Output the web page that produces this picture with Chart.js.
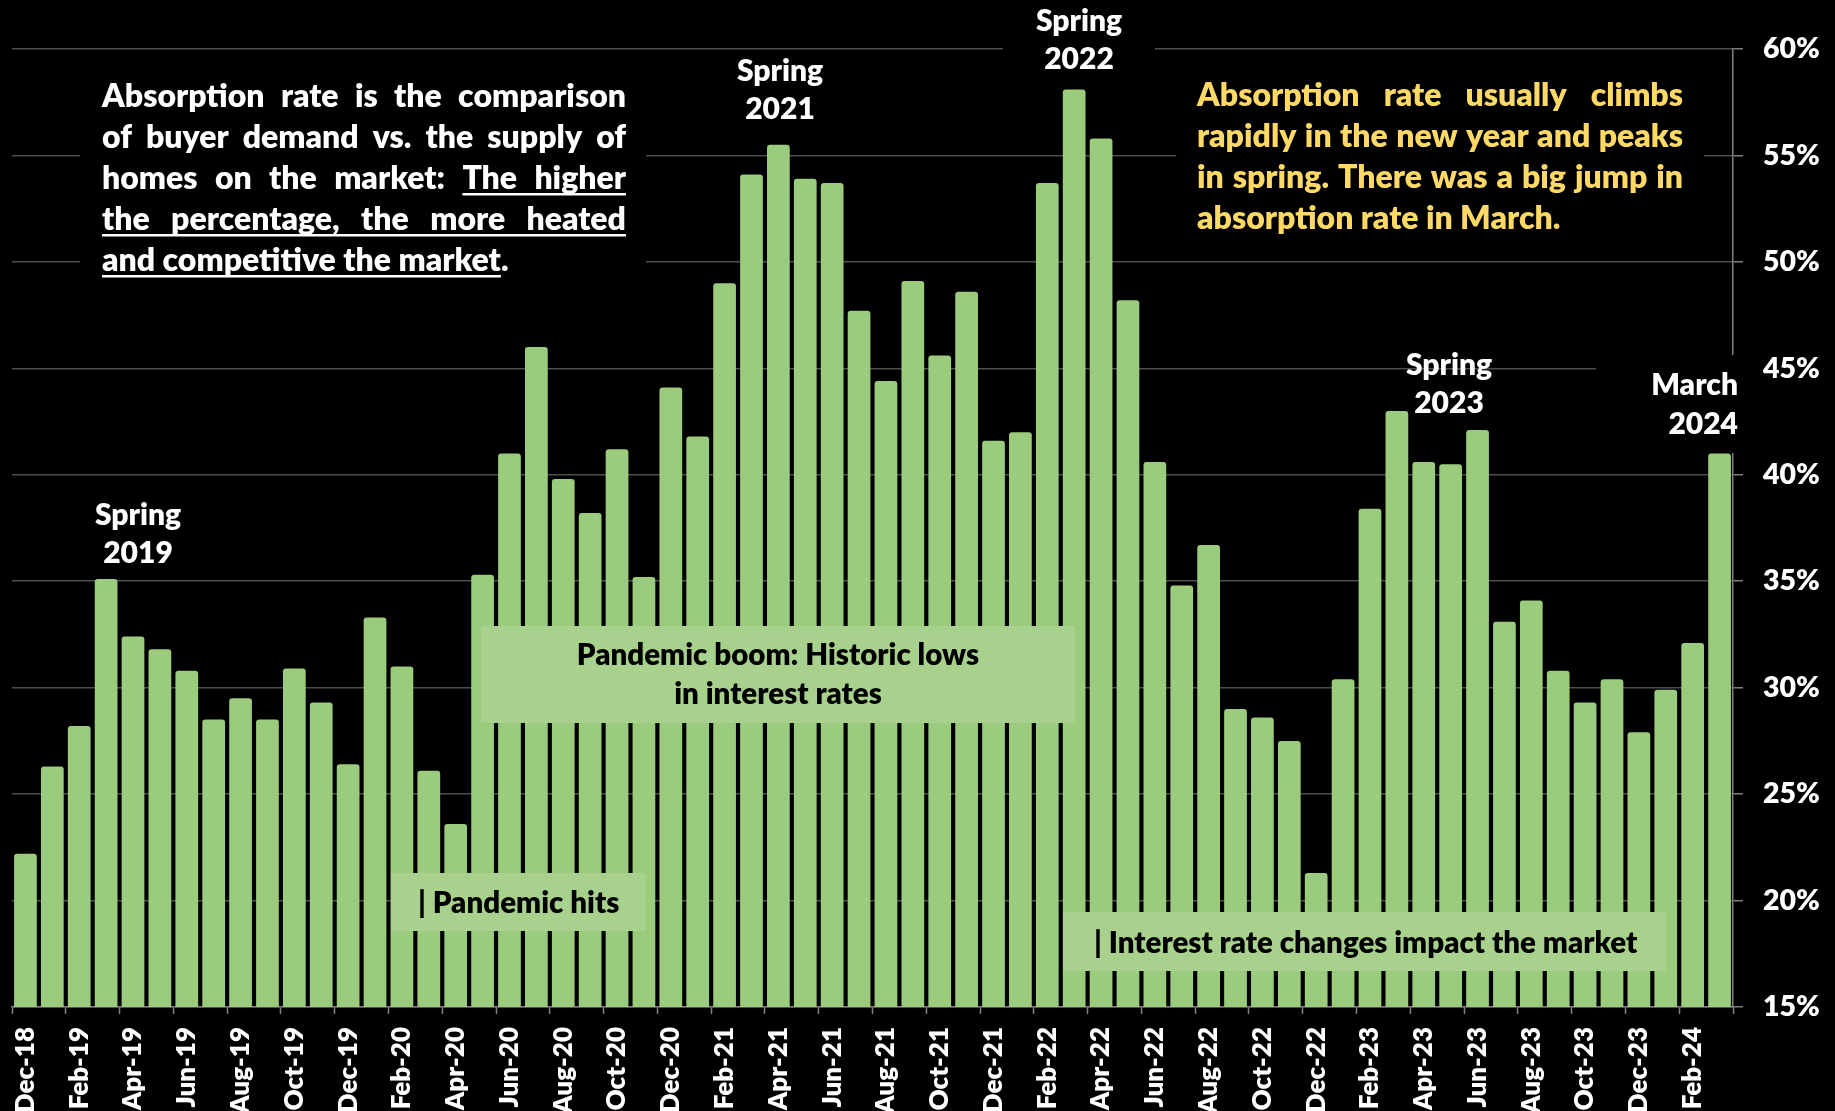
<!DOCTYPE html>
<html>
<head>
<meta charset="utf-8">
<title>Absorption rate</title>
<script src="https://cdn.jsdelivr.net/npm/chart.js@4"></script>
<style>
    html, body { margin: 0; padding: 0; background: #000; overflow: hidden; }
    #chartBox { width: 1835px; height: 1111px; position: relative; }
</style>
</head>
<body>
<div id="chartBox"><canvas id="absorptionChart"></canvas></div>
<script>
// Monthly absorption rate, Dec 2018 - Mar 2024
const months = [
    'Dec-18',
    'Jan-19', 'Feb-19', 'Mar-19', 'Apr-19', 'May-19', 'Jun-19', 'Jul-19', 'Aug-19', 'Sep-19', 'Oct-19', 'Nov-19', 'Dec-19',
    'Jan-20', 'Feb-20', 'Mar-20', 'Apr-20', 'May-20', 'Jun-20', 'Jul-20', 'Aug-20', 'Sep-20', 'Oct-20', 'Nov-20', 'Dec-20',
    'Jan-21', 'Feb-21', 'Mar-21', 'Apr-21', 'May-21', 'Jun-21', 'Jul-21', 'Aug-21', 'Sep-21', 'Oct-21', 'Nov-21', 'Dec-21',
    'Jan-22', 'Feb-22', 'Mar-22', 'Apr-22', 'May-22', 'Jun-22', 'Jul-22', 'Aug-22', 'Sep-22', 'Oct-22', 'Nov-22', 'Dec-22',
    'Jan-23', 'Feb-23', 'Mar-23', 'Apr-23', 'May-23', 'Jun-23', 'Jul-23', 'Aug-23', 'Sep-23', 'Oct-23', 'Nov-23', 'Dec-23',
    'Jan-24', 'Feb-24', 'Mar-24'
];

const absorptionRate = [
    22.2,
    26.3, 28.2, 35.1, 32.4, 31.8, 30.8, 28.5, 29.5, 28.5, 30.9, 29.3, 26.4,
    33.3, 31.0, 26.1, 23.6, 35.3, 41.0, 46.0, 39.8, 38.2, 41.2, 35.2, 44.1,
    41.8, 49.0, 54.1, 55.5, 53.9, 53.7, 47.7, 44.4, 49.1, 45.6, 48.6, 41.6,
    42.0, 53.7, 58.1, 55.8, 48.2, 40.6, 34.8, 36.7, 29.0, 28.6, 27.5, 21.3,
    30.4, 38.4, 43.0, 40.6, 40.5, 42.1, 33.1, 34.1, 30.8, 29.3, 30.4, 27.9,
    29.9, 32.1, 41.0
];

// y axis range (percent)
const axisMin = 15;
const axisMax = 60;
const axisStep = 5;

// Notes
const definitionLines = [
    'Absorption rate is the comparison',
    'of buyer demand vs. the supply of',
    'homes on the market: The higher',
    'the percentage, the more heated',
    'and competitive the market.'
];
const trendLines = [
    'Absorption rate usually climbs',
    'rapidly in the new year and peaks',
    'in spring. There was a big jump in',
    'absorption rate in March.'
];
const boomNote = ['Pandemic boom: Historic lows', 'in interest rates'];
const pandemicNote = '| Pandemic hits';
const ratesNote = '| Interest rate changes impact the market';
const peakLabels = [
    ['Spring', '2019'],
    ['Spring', '2021'],
    ['Spring', '2022'],
    ['Spring', '2023'],
    ['March', '2024']
];

const FONT = 'Lato';
const WEIGHT = 800;
const BAR_GREEN = '#9bcb7c';
const BOX_GREEN = '#a9d18e';
const AXIS_GRAY = '#808080';

// Draws a justified paragraph; the last line keeps normal spacing.
// ulFrom maps line index -> first underlined word.
function drawParagraph(ctx, lines, left, width, firstBaseline, step, ulFrom) {
    lines.forEach((line, i) => {
        const words = line.split(' ');
        const y = firstBaseline + i * step;
        const isLast = i === lines.length - 1;
        const widths = words.map(w => ctx.measureText(w).width);
        const total = widths.reduce((a, b) => a + b, 0);
        const gap = isLast ? ctx.measureText(' ').width : (width - total) / (words.length - 1);

        let x = left;
        let ulStart = null;
        let ulEnd = null;
        words.forEach((w, j) => {
            ctx.fillText(w, x, y);
            if (ulFrom && ulFrom[i] !== undefined && j >= ulFrom[i]) {
                if (ulStart === null) ulStart = x;
                // the closing period is not underlined
                ulEnd = x + (w.endsWith('.') ? ctx.measureText(w.slice(0, -1)).width : widths[j]);
            }
            x += widths[j] + gap;
        });
        if (ulStart !== null) {
            ctx.fillRect(ulStart, y + 4, ulEnd - ulStart, 2.5);
        }
    });
}

function drawLines(ctx, lines, x, firstBaseline, step) {
    lines.forEach((line, i) => ctx.fillText(line, x, firstBaseline + i * step));
}

const notesPlugin = {
    id: 'notes',
    // black panels behind the text hide the grid lines
    beforeDatasetsDraw(chart) {
        const ctx = chart.ctx;
        ctx.save();
        ctx.fillStyle = '#000';
        ctx.fillRect(80, 65, 566, 225);
        ctx.fillRect(1176, 70, 528, 175);
        ctx.fillRect(1003, 0, 152, 80);
        ctx.fillRect(1596, 355, 149, 98);
        ctx.restore();
    },
    afterDatasetsDraw(chart) {
        const ctx = chart.ctx;
        ctx.save();
        ctx.textBaseline = 'alphabetic';

        // green callout boxes
        ctx.fillStyle = BOX_GREEN;
        ctx.fillRect(481, 626, 594, 97);
        ctx.fillRect(391, 873, 255, 58);
        ctx.fillRect(1063, 912, 603, 59);

        ctx.fillStyle = '#000';
        ctx.font = `${WEIGHT} 29.5px ${FONT}`;
        ctx.textAlign = 'center';
        drawLines(ctx, boomNote, 778, 665, 39);
        ctx.textAlign = 'left';
        ctx.fillText(pandemicNote, 418, 913);
        ctx.fillText(ratesNote, 1094, 953);

        // paragraphs
        ctx.font = `${WEIGHT} 32px ${FONT}`;
        ctx.fillStyle = '#fff';
        drawParagraph(ctx, definitionLines, 102, 524, 107, 41, { 2: 4, 3: 0, 4: 0 });
        ctx.fillStyle = '#ffd966';
        drawParagraph(ctx, trendLines, 1197, 486, 106, 41);

        // peak labels
        ctx.fillStyle = '#fff';
        ctx.font = `${WEIGHT} 30px ${FONT}`;
        ctx.textAlign = 'center';
        drawLines(ctx, peakLabels[0], 138, 525, 37.5);
        drawLines(ctx, peakLabels[1], 780, 81, 37.5);
        drawLines(ctx, peakLabels[2], 1079, 31, 37.5);
        drawLines(ctx, peakLabels[3], 1449, 375, 38);
        ctx.textAlign = 'right';
        drawLines(ctx, peakLabels[4], 1738, 395, 39);

        ctx.restore();
    }
};

function createChart() {
    const ctx = document.getElementById('absorptionChart').getContext('2d');

    return new Chart(ctx, {
        type: 'bar',
        data: {
            labels: months,
            datasets: [{
                data: absorptionRate,
                backgroundColor: BAR_GREEN,
                borderRadius: 3,
                barPercentage: 0.845,
                categoryPercentage: 1
            }]
        },
        options: {
            responsive: true,
            maintainAspectRatio: false,
            animation: false,
            layout: { padding: { left: 12, top: 49, right: 0, bottom: 0 } },
            plugins: {
                legend: { display: false },
                tooltip: { enabled: false }
            },
            scales: {
                x: {
                    grid: {
                        drawOnChartArea: false,
                        tickLength: 7,
                        tickWidth: 1.5,
                        // tick marks every other month (plus the closing one)
                        tickColor: c => (c.index === undefined || c.index % 2 === 0) ? AXIS_GRAY : 'rgba(0,0,0,0)'
                    },
                    border: { color: AXIS_GRAY, width: 1.5 },
                    ticks: {
                        autoSkip: false,
                        minRotation: 90,
                        maxRotation: 90,
                        padding: 13,
                        color: '#fff',
                        font: { family: FONT, weight: WEIGHT, size: 26 },
                        callback: (value, index) => index % 2 === 0 ? months[index] : ''
                    },
                    afterFit: scale => { scale.height = 104; }
                },
                y: {
                    position: 'right',
                    min: axisMin,
                    max: axisMax,
                    ticks: {
                        stepSize: axisStep,
                        padding: 20,
                        color: '#fff',
                        font: { family: FONT, weight: WEIGHT, size: 28.5 },
                        callback: v => v + '%'
                    },
                    grid: {
                        color: '#4d4d4d',
                        lineWidth: 1.5,
                        tickColor: AXIS_GRAY,
                        tickLength: 10
                    },
                    border: { color: AXIS_GRAY, width: 1.5 },
                    afterFit: scale => { scale.width = 102; }
                }
            }
        },
        plugins: [notesPlugin]
    });
}

document.fonts.load(`${WEIGHT} 30px ${FONT}`).then(createChart, createChart);
</script>
</body>
</html>
